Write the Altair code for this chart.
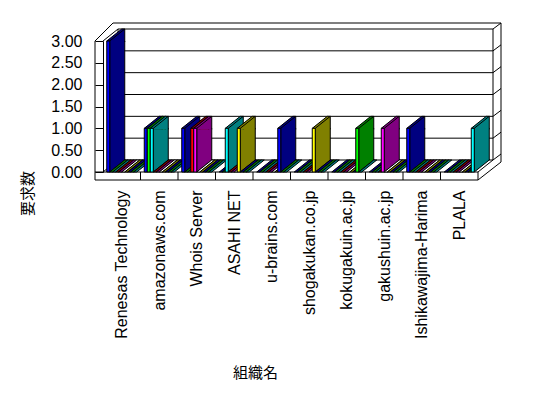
import json
import altair as alt
import pandas as pd

# ---------------- data ----------------
categories = ["Renesas Technology", "amazonaws.com", "Whois Server", "ASAHI NET",
              "u-brains.com", "shogakukan.co.jp", "kokugakuin.ac.jp", "gakushuin.ac.jp",
              "Ishikawajima-Harima", "PLALA"]
series_names = ["系列1", "系列2", "系列3", "系列4", "系列5",
                "系列6", "系列7", "系列8", "系列9", "系列10"]
s1 = [3, 1, 1, 0, 0, 0, 0, 0, 1, 0]
s2 = [0, 1, 0, 0, 0, 0, 0, 0, 0, 0]
s3 = [0, 1, 0, 1, 0, 0, 0, 0, 0, 0]
s4 = [0, 0, 1, 0, 0, 0, 0, 0, 0, 0]
s5 = [0, 0, 1, 0, 0, 0, 0, 1, 0, 0]
s6 = [0, 0, 0, 0, 0, 0, 0, 0, 0, 0]
s7 = [0, 0, 0, 1, 0, 1, 0, 0, 0, 0]
s8 = [0, 0, 0, 0, 1, 0, 0, 0, 0, 0]
s9 = [0, 0, 0, 0, 0, 0, 1, 0, 0, 0]
s10 = [0, 0, 0, 0, 0, 0, 0, 0, 0, 1]
series_values = [s1, s2, s3, s4, s5, s6, s7, s8, s9, s10]
front_colors = ["#0000FF", "#00FF00", "#00FFFF", "#FF0000", "#FF00FF",
                "#FFFFFF", "#FFFF00", "#0000FF", "#00FF00", "#00FFFF"]
side_colors = ["#000080", "#008000", "#008080", "#800000", "#800080",
               "#FFFFFF", "#808000", "#000080", "#008000", "#008080"]
y_ticks = [0, 0.5, 1, 1.5, 2, 2.5, 3]
y_title = "要求数"
x_title = "組織名"

# ---------------- table for the library ----------------
rows = []
for si, (name, vals) in enumerate(zip(series_names, series_values)):
    for ci, (cat, v) in enumerate(zip(categories, vals)):
        rows.append({"category": cat, "ci": ci, "series": name, "si": si,
                     "value": v, "front": front_colors[si], "side": side_colors[si]})
df = pd.DataFrame(rows).sort_values(["ci", "si"]).reset_index(drop=True)
ticks_df = pd.DataFrame({"tick": y_ticks})
bounds_df = pd.DataFrame({"b": list(range(1, len(categories)))})
centers_df = pd.DataFrame({"c": [i + 0.5 for i in range(len(categories))],
                           "v": [0.0] * len(categories)})
one = pd.DataFrame({"k": [0]})

# ---------------- layout / 3-D look constants (pixels) ----------------
DX, DY = 15, -12          # depth of the floor / bars
WX, WY = 23, -18          # depth incl. wall thickness
BAR_W = 3
WALL_W = 8
FLOOR_H = 8
CLUSTER_PAD = 0.1         # in category units
SERIES_STEP = 0.08

TOP_PATH = "M3,1L3,0L0,0L15,-12L18,-12L18,1M3,0L18,-12"
BOTTOM_PATH = "M18,-13L18,-12L3,0L3,-13"
SLAB_PATH = "M0,0L3,0L18,-12L15,-12Z"

N = len(categories)
xs = alt.Scale(domain=[0, N], nice=False, zero=False)
ys = alt.Scale(domain=[0, 3], nice=False, zero=True)
LATIN = "Liberation Sans"
CJK = "Noto Sans CJK JP"

base = alt.Chart(df).transform_calculate(
    xpos=f"datum.ci + {CLUSTER_PAD} + {SERIES_STEP} * datum.si", zero="0")

# axes layer (invisible points, carries both axes)
label_expr = f"{json.dumps(categories)}[floor(datum.value)]"
axes_layer = alt.Chart(centers_df).mark_point(opacity=0, size=1).encode(
    x=alt.X("c:Q", scale=xs,
            axis=alt.Axis(title=x_title, values=[i + 0.5 for i in range(N)], labelExpr=label_expr,
                          labelAngle=-90, labelAlign="right", labelBaseline="middle",
                          labelPadding=18, ticks=False, tickSize=0, domain=False, grid=False,
                          labelFont=LATIN, labelFontSize=16, labelColor="black", labelLimit=0,
                          labelOverlap=False,
                          titleFont=CJK, titleFontSize=15, titleFontWeight="normal",
                          titleColor="black", titleX=152, titleY=200, titleBaseline="middle",
                          titleAlign="center")),
    y=alt.Y("v:Q", scale=ys,
            axis=alt.Axis(title=y_title, values=y_ticks, format=".2f", grid=False,
                          tickSize=WALL_W, tickColor="black", domainColor="black",
                          labelPadding=13, labelFont=LATIN, labelFontSize=16, labelColor="black",
                          titleFont=CJK, titleFontSize=15, titleFontWeight="normal",
                          titleColor="black", titleAngle=270, titleBaseline="middle",
                          titleAlign="center", titleX=-76, titleY=152)),
)

# back-wall gridlines
grid = alt.Chart(ticks_df).mark_rule(color="black", strokeWidth=1, xOffset=DX, x2Offset=DX,
                                     yOffset=DY).encode(
    x=alt.X(datum=0, scale=xs, axis=None),
    x2=alt.X2(datum=N),
    y=alt.Y("tick:Q", scale=ys, axis=None),
)

# slanted ticks on the right edge of the back wall
rticks = alt.Chart(ticks_df).mark_rule(color="black", strokeWidth=1, xOffset=DX, x2Offset=WX,
                                       yOffset=DY, y2Offset=WY).encode(
    x=alt.X(datum=N, scale=xs, axis=None),
    x2=alt.X2(datum=N),
    y=alt.Y("tick:Q", scale=ys, axis=None),
    y2=alt.Y2("tick:Q"),
)

segments = [
    # (xa, dxa, ya, dya, xb, dxb, yb, dyb)
    (0, -WALL_W, 3, 0, 0, -WALL_W, 0, FLOOR_H),      # left wall outer edge
    (0, -WALL_W, 3, 0, 0, 10, 3, WY),                # left wall top outer slant
    (0, 10, 3, WY, N, WX, 3, WY),                    # top outer edge
    (0, 0, 3, 0, 0, DX, 3, DY),                      # left wall inner slant
    (0, DX, 3, DY, 0, DX, 0, DY),                    # back wall left edge
    (0, 0, 0, 0, 0, DX, 0, DY),                      # floor left edge
    (N, DX, 3, DY, N, DX, 0, DY),                    # back wall right edge
    (N, WX, 3, WY, N, WX, 0, FLOOR_H + WY),          # outer right edge
    (0, -WALL_W, 0, 0, N, 0, 0, 0),                  # floor front top
    (0, -WALL_W, 0, FLOOR_H, N, 0, 0, FLOOR_H),      # floor front bottom
    (N, 0, 0, 0, N, 0, 0, FLOOR_H),                  # floor front right edge
    (N, 0, 0, 0, N, DX, 0, DY),                      # floor right top slant
    (N, 0, 0, FLOOR_H, N, WX, 0, FLOOR_H + WY),      # floor right bottom slant
]
frame_layers = []
for xa, dxa, ya, dya, xb, dxb, yb, dyb in segments:
    frame_layers.append(
        alt.Chart(one).mark_rule(color="black", strokeWidth=1, xOffset=dxa, x2Offset=dxb,
                                 yOffset=dya, y2Offset=dyb).encode(
            x=alt.X(datum=xa, scale=xs, axis=None), x2=alt.X2(datum=xb),
            y=alt.Y(datum=ya, scale=ys, axis=None), y2=alt.Y2(datum=yb)))

dividers = alt.Chart(bounds_df).mark_rule(color="black", strokeWidth=1, y2Offset=FLOOR_H).encode(
    x=alt.X("b:Q", scale=xs, axis=None),
    y=alt.Y(datum=0, scale=ys, axis=None), y2=alt.Y2(datum=0))

nonzero = base.transform_filter("datum.value > 0")

side = nonzero.mark_rect(stroke="black", strokeWidth=1, xOffset=BAR_W, x2Offset=BAR_W + DX,
                         y2Offset=DY).encode(
    x=alt.X("xpos:Q", scale=xs, axis=None), x2="xpos:Q",
    y=alt.Y("value:Q", scale=ys, axis=None), y2="zero:Q",
    fill=alt.Fill("side:N", scale=None))

bottom = base.transform_calculate(
    bshape=f"datum.value > 0 ? '{BOTTOM_PATH}' : '{SLAB_PATH}'"
).mark_point(filled=True, opacity=1, fillOpacity=1, stroke="black", strokeWidth=1, size=4).encode(
    x=alt.X("xpos:Q", scale=xs, axis=None),
    y=alt.Y("zero:Q", scale=ys, axis=None),
    shape=alt.Shape("bshape:N", scale=None),
    fill=alt.Fill("side:N", scale=None))

top = nonzero.mark_point(filled=True, opacity=1, fillOpacity=1, stroke="black", strokeWidth=1,
                         size=4, shape=TOP_PATH).encode(
    x=alt.X("xpos:Q", scale=xs, axis=None),
    y=alt.Y("value:Q", scale=ys, axis=None),
    fill=alt.Fill("side:N", scale=None))

front = nonzero.mark_rect(stroke="black", strokeWidth=1, x2Offset=BAR_W).encode(
    x=alt.X("xpos:Q", scale=xs, axis=None),
    x2="xpos:Q",
    y=alt.Y("value:Q", scale=ys, axis=None), y2="zero:Q",
    fill=alt.Fill("front:N", scale=None))

chart = alt.layer(axes_layer, grid, rticks, *frame_layers, dividers, side, bottom, top, front).resolve_axis(
    x="independent", y="independent"
).properties(
    width=375, height=131,
    autosize=alt.AutoSizeParams(type="none"),
    padding={"left": 95, "top": 33, "right": 62, "bottom": 218},
    background="white",
).configure_view(stroke=None)

chart.save("out.html", embed_options={"renderer": "svg", "actions": False})
